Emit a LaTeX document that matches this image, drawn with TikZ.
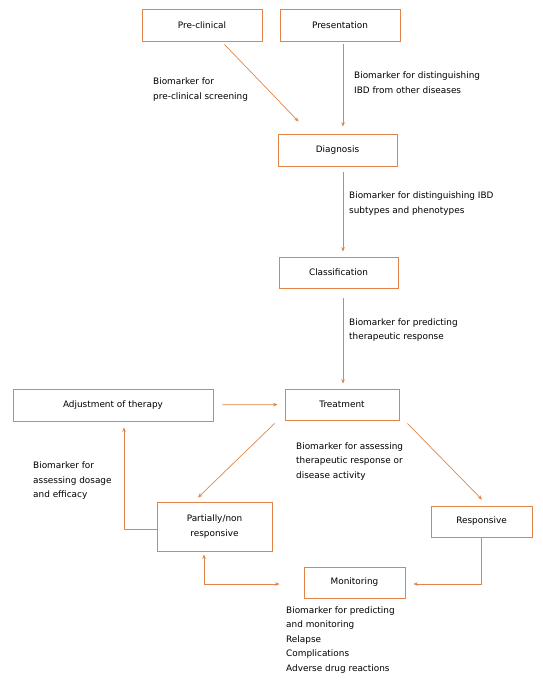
\documentclass[tikz,border=0pt]{standalone}
\usepackage{fontspec}
\setmainfont{DejaVu Sans}
\usepackage{xcolor}
\usetikzlibrary{arrows.meta}
\definecolor{ibdorange}{RGB}{224,132,72}

\begin{document}
\begin{tikzpicture}[x=1pt,y=-1pt,
    stage/.style={draw=ibdorange,line width=0.8pt,align=center,inner sep=0pt,
        font=\fontsize{8.9}{14.5}\selectfont,minimum height=31pt},
    note/.style={anchor=north west,align=left,inner sep=0pt,
        font=\fontsize{8.9}{14.5}\selectfont},
    flow/.style={draw=ibdorange,line width=0.7pt,-{Stealth[length=4.5pt,width=3.6pt]}},
    twoway/.style={flow,{Stealth[length=4.5pt,width=3.6pt]}-{Stealth[length=4.5pt,width=3.6pt]}}]
    \useasboundingbox (0,0) rectangle (542,684);
    % boxes
    \node[stage,minimum width=120pt,minimum height=32pt] (pre)   at (202,25)      {Pre-clinical};
    \node[stage,minimum width=120pt,minimum height=32pt] (pres)  at (340,25)      {Presentation};
    \node[stage,minimum width=119pt,minimum height=32pt] (diag)  at (337.5,150)   {Diagnosis};
    \node[stage,minimum width=119pt] (class) at (338.5,272.5) {Classification};
    \node[stage,minimum width=114pt] (treat) at (342,404.5)   {Treatment};
    \node[stage,minimum width=200pt,minimum height=32pt] (adj) at (113,405) {Adjustment of therapy};
    \node[stage,minimum width=115pt,minimum height=49pt] (part) at (214.5,526.5) {Partially/non\\responsive};
    \node[stage,minimum width=101pt] (resp)  at (481.5,521.5) {Responsive};
    \node[stage,minimum width=101pt] (mon)   at (354.5,582.5) {Monitoring};
    % biomarker notes
    \node[note] (nPre)   at (153,78) {Biomarker for\\pre-clinical screening};
    \node[note] (nPres)  at (354,72) {Biomarker for distinguishing\\IBD from other diseases};
    \node[note] (nDiag)  at (349,192) {Biomarker for distinguishing IBD\\subtypes and phenotypes};
    \node[note] (nClass) at (349,318.5) {Biomarker for predicting\\therapeutic response};
    \node[note] (nTreat) at (296,442.5) {Biomarker for assessing\\therapeutic response or\\disease activity};
    \node[note] (nAdj)   at (33,462) {Biomarker for\\assessing dosage\\and efficacy};
    \node[note] (nMon)   at (286,606.5) {Biomarker for predicting\\and monitoring\\Relapse\\Complications\\Adverse drug reactions};
    % connectors
    \draw[flow] ([xshift=-38pt,yshift=-3pt]pre.south east) -- ([xshift=21pt,yshift=12pt]diag.north west);
    \draw[flow] ([xshift=3pt,yshift=-3pt]pres.south) -- ([xshift=5.5pt,yshift=7pt]diag.north);
    \draw[flow] ([xshift=5.5pt,yshift=-6pt]diag.south) -- ([xshift=4.5pt,yshift=5pt]class.north);
    \draw[flow] ([xshift=4.5pt,yshift=-10pt]class.south) -- ([xshift=1pt,yshift=5pt]treat.north);
    \draw[flow,shorten <=9pt,shorten >=7pt] (adj) -- (treat);
    \draw[flow] ([xshift=-10pt,yshift=-3pt]treat.south west) -- ([xshift=-16.5pt,yshift=4pt]part.north);
    \draw[flow] ([xshift=8pt,yshift=-3pt]treat.south east) -- ([xshift=0.5pt,yshift=6pt]resp.north);
    \draw[flow] ([yshift=-2.5pt]part.west) -| ([xshift=11pt,yshift=-6pt]adj.south);
    \draw[twoway] ([xshift=-10.5pt,yshift=-3pt]part.south) |- ([xshift=-24pt,yshift=-1.5pt]mon.west);
    \draw[flow] (resp.south) |- ([xshift=8pt,yshift=-1.5pt]mon.east);
\end{tikzpicture}
\end{document}
